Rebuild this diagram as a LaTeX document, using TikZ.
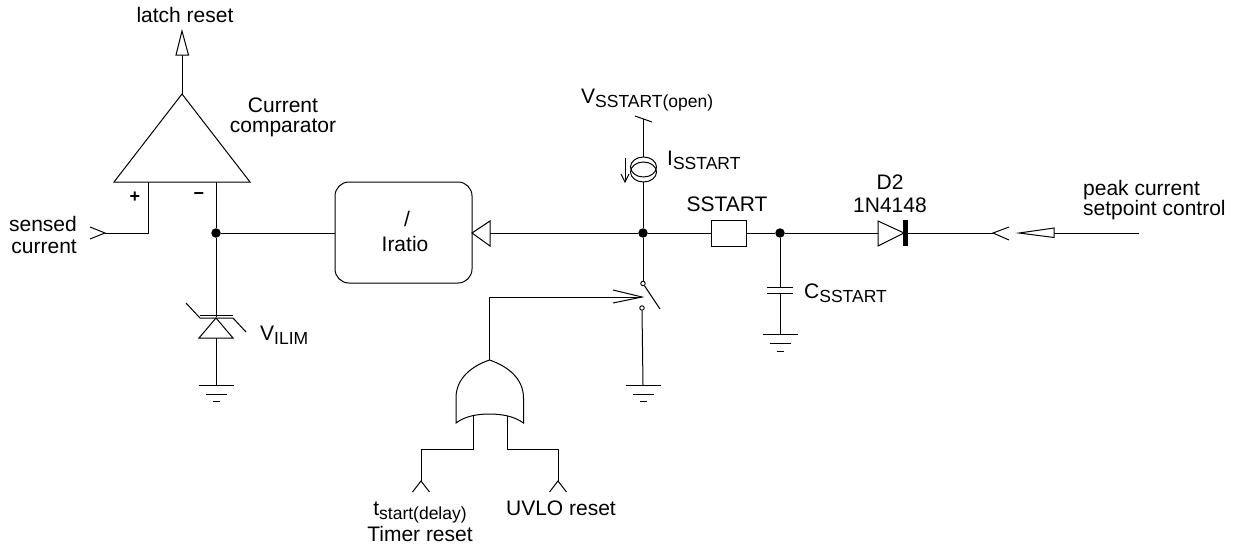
\documentclass[tikz,border=0pt]{standalone}
\usepackage{fontspec}
\setmainfont{Liberation Sans}
\newcommand{\subt}[1]{\raisebox{-4.5pt}{\fontsize{17.5}{17.5}\selectfont #1}}
\tikzset{
  x=1pt,y=-1pt,
  wire/.style={draw=black,line width=1pt,line join=miter},
  shp/.style={draw=black,fill=white,line width=1pt},
  dotj/.style={circle,fill=black,draw=none,inner sep=0pt,minimum size=9.5pt},
  contact/.style={circle,fill=white,draw=black,line width=0.9pt,inner sep=0pt,minimum size=4.5pt},
  txt/.style={inner sep=0pt,font=\fontsize{21}{22}\selectfont},
  lbl/.style={txt,anchor=base},
  lbw/.style={txt,anchor=base west},
  lbe/.style={txt,anchor=base east},
}
\begin{document}
\begin{tikzpicture}
\useasboundingbox (0,0) rectangle (1236,546);
% junctions and points
\coordinate (cmpTop) at (182,94);
\coordinate (cmpL) at (114,182);
\coordinate (cmpR) at (250,182);
\coordinate (cmpOut) at (182,55);
\coordinate (inP) at (148,182);
\coordinate (inPb) at (148,233);
\coordinate (sense) at (105,233);
\coordinate (inM) at (216,182);
\node[dotj] (j1) at (216,233) {};
\node[dotj] (j2) at (643,233) {};
\node[dotj] (j3) at (780,233) {};
\coordinate (znTop) at (216,317);
\coordinate (znBot) at (216,338);
\coordinate (g1) at (216,385);
\node[shp,rounded corners=14pt,minimum width=137pt,minimum height=101pt,inner sep=0pt] (ratio) at (403.5,232.5) {};
\coordinate (ratioArrow) at (490,233);
\coordinate (vTop) at (643,119);
\coordinate (csTop) at (643,157);
\coordinate (csBot) at (643,182);
\node[contact] (sw1) at (643,283.5) {};
\node[contact] (sw2) at (642,308) {};
\coordinate (swEnd) at (660,309);
\coordinate (g2) at (643,385);
\coordinate (orTop) at (489.5,360);
\coordinate (ctlCorner) at (489.5,297);
\coordinate (ctlEnd) at (642,297);
\coordinate (orA) at (473,415);
\coordinate (orB) at (507,415);
\coordinate (orAb) at (473,449);
\coordinate (orBb) at (507,449);
\coordinate (tA) at (421,449);
\coordinate (tB) at (558,449);
\coordinate (tipA) at (421,481);
\coordinate (tipB) at (558,481);
\node[shp,minimum width=35pt,minimum height=26pt,inner sep=0pt] (res) at (728.5,233) {};
\coordinate (diA) at (878,233);
\coordinate (diK) at (907,233);
\coordinate (peakIn) at (993,233);
\coordinate (pkTri) at (1054,233);
\coordinate (pkEnd) at (1139,233);
\coordinate (capT) at (780,287);
\coordinate (capB) at (780,293);
\coordinate (g3) at (780,334.5);
% wires
\draw[wire] (cmpTop) -- (cmpOut);
\draw[wire] (inP) -- (inPb) -- (sense);
\draw[wire] (inM) -- (j1) -- (znTop);
\draw[wire] (znBot) -- (g1);
\draw[wire] (j1) -- (ratio.west |- j1);
\draw[wire] (ratioArrow) -- (j2);
\draw[wire] (vTop) -- (csTop);
\draw[wire] (csBot) -- (j2);
\draw[wire] (j2) -- (sw1);
\draw[wire] (sw1) -- (swEnd);
\draw[wire] (sw2.south) -- (g2);
\draw[wire] (orTop) -- (ctlCorner) -- (ctlEnd);
\draw[wire] (orA) -- (orAb) -- (tA) -- (tipA);
\draw[wire] (orB) -- (orBb) -- (tB) -- (tipB);
\draw[wire] (j2) -- (res.west);
\draw[wire] (res.east) -- (j3);
\draw[wire] (j3) -- (diA);
\draw[wire] (diK) -- (peakIn);
\draw[wire] (pkTri) -- (pkEnd);
\draw[wire] (j3) -- (capT);
\draw[wire] (capB) -- (g3);
% comparator
\draw[shp] (cmpTop) -- (cmpR) -- (cmpL) -- cycle;
\draw[shp] (176,55) -- (188.5,55) -- (182,31) -- cycle;
\draw[wire] (90,227) -- (sense) -- (90,239);
% zener
\draw[wire] (186,303) -- (200,318) -- (233,318) -- (246,332);
\draw[wire] (200,315.5) -- (233,315.5);
\draw[shp] (216,318) -- (233,338) -- (199,338) -- cycle;
% grounds
\foreach \cx/\cy in {216/385,643/385,780/334.5}{
  \draw[wire] (\cx-17.5,\cy) -- (\cx+17.5,\cy);
  \draw[wire] (\cx-10.5,\cy+9) -- (\cx+10.5,\cy+9);
  \draw[wire] (\cx-3.5,\cy+16.5) -- (\cx+3.5,\cy+16.5);
}
% ratio arrow
\draw[shp] (472,233) -- (490,221) -- (490,246) -- cycle;
% V tick
\draw[wire] (635,116) -- (652,122);
% current source
\draw[wire] (643.5,167) ellipse [x radius=13,y radius=10];
\draw[wire] (643.5,172) ellipse [x radius=13,y radius=10];
\draw[wire] (625,158) -- (625,182);
\draw[wire] (621,174) -- (625,182) -- (629,174);
% switch control arrow
\draw[wire] (613,290) -- (ctlEnd) -- (613,303);
% OR gate
\draw[shp] (orTop) .. controls (472,366) and (456,378) .. (456,398) -- (456,423)
  .. controls (465,416) and (478,414) .. (489.5,414)
  .. controls (501,414) and (514,416) .. (523.5,423) -- (523.5,398)
  .. controls (523.5,378) and (507,366) .. (orTop) -- cycle;
\draw[wire] (412.5,492) -- (tipA) -- (429.5,492);
\draw[wire] (549.5,492) -- (tipB) -- (566.5,492);
% diode
\draw[shp] (878,221) -- (904,233) -- (878,246) -- cycle;
\fill[black] (903,220) rectangle (907.5,246);
% peak input
\draw[wire] (1009,227) -- (peakIn) -- (1009,240);
\draw[shp] (1019,233) -- (1054,228) -- (1054,237.5) -- cycle;
% capacitor
\draw[wire] (767,287) -- (793,287);
\draw[wire] (767,293) -- (793,293);
% labels
\node[lbl] (tLatch) at (185,22) {latch reset};
\node[lbl] (tCur) at (283,112) {Current};
\node[lbl] (tComp) at (283,132) {comparator};
\node[lbe] (tSens) at (77,231) {sensed};
\node[lbe] (tCurr) at (77,253) {current};
\node[lbl] (tPlus) at (135,202) {\fontsize{18}{18}\selectfont\bfseries +};
\node[lbl] (tMinus) at (199,199) {\fontsize{18}{18}\selectfont\bfseries −};
\node[lbw] (tVilim) at (260,340) {V\subt{ILIM}};
\node[lbl] (tSlash) at (407,226) {/};
\node[lbl] (tIratio) at (405,251) {Iratio};
\node[lbw] (tVss) at (581,103) {V\subt{SSTART(open)}};
\node[lbw] (tIss) at (667,165) {I\subt{SSTART}};
\node[lbl] (tSs) at (727,211) {SSTART};
\node[lbw] (tCss) at (804,298) {C\subt{SSTART}};
\node[lbl] (tD2) at (890,189) {D2};
\node[lbl] (t1N) at (890,212) {1N4148};
\node[lbw] (tPeak) at (1083,195) {peak current};
\node[lbw] (tSet) at (1083,215) {setpoint control};
\node[lbl] (tStart) at (420,515) {t\subt{start(delay)}};
\node[lbl] (tTimer) at (420,541.5) {Timer reset};
\node[lbl] (tUvlo) at (561,515) {UVLO reset};
\end{tikzpicture}
\end{document}
